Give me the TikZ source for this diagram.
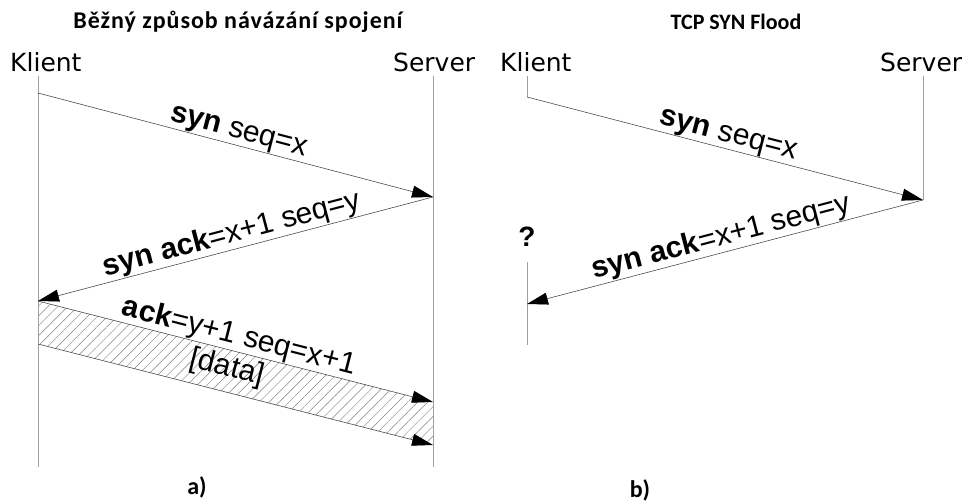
\documentclass[tikz,border=0pt]{standalone}
\usepackage{fontspec}
\setmainfont{Liberation Sans}
\newfontfamily\partyfont{DejaVu Sans}
\newfontfamily\titlefont{Carlito}
\newfontfamily\widetitlefont[LetterSpace=4]{Carlito}
\usetikzlibrary{arrows.meta,patterns.meta}

\begin{document}
\begin{tikzpicture}[x=1pt,y=-1pt]

	\tikzstyle lifeline=[gray!75, line width=0.8pt];
	\tikzstyle message=[draw=black!70, line width=0.6pt, -{Triangle[length=21pt,width=12pt,color=black]}];
	\tikzstyle party=[font=\partyfont\fontsize{25}{28}\selectfont, inner sep=0pt, anchor=west];
	\tikzstyle msglabel=[font=\fontsize{30}{32}\selectfont, sloped, above, inner sep=0.5pt];
	\tikzstyle heading=[font=\titlefont\bfseries\fontsize{22}{24}\selectfont];
	\tikzstyle datablock=[pattern={Lines[angle=45,distance=7pt,line width=0.45pt]}, pattern color=gray];

	\useasboundingbox (0,0) rectangle (969,503);

	% a) bezny prubeh
	\node[heading,font=\widetitlefont\bfseries\fontsize{24}{26}\selectfont] (titleA) at (238,22) {Běžný způsob návázání spojení};
	\node[party] (klientA) at (10,62) {Klient};
	\node[party] (serverA) at (393,62) {Server};

	\coordinate (kA0) at (38,76);
	\coordinate (kA1) at (38,93);
	\coordinate (kA2) at (38,301);
	\coordinate (kA3) at (38,344);
	\coordinate (kA4) at (38,467);
	\coordinate (sA0) at (433,76);
	\coordinate (sA1) at (433,197);
	\coordinate (sA2) at (433,402);
	\coordinate (sA3) at (433,445);
	\coordinate (sA4) at (433,467);

	\fill[datablock] (kA2) -- (sA2) -- (sA3) -- (kA3) -- cycle;
	\foreach \a/\b in {kA0/kA4,sA0/sA4}
		\draw[lifeline] (\a) -- (\b);

	\draw[message] (kA1) -- node[msglabel,pos=.5] {\textbf{syn} seq=x} (sA1);
	\draw[message] (sA1) -- node[msglabel,pos=.5] {\textbf{syn ack}=x+1 seq=y} (kA2);
	\draw[message] (kA2) -- node[msglabel,pos=.5] {\textbf{ack}=y+1 seq=x+1}
		node[msglabel,below,pos=.49,inner sep=4pt] {[data]} (sA2);
	\draw[message] (kA3) -- (sA3);

	\node[heading,font=\titlefont\bfseries\fontsize{24}{26}\selectfont] (labelA) at (197,487) {a)};

	% b) SYN flood
	\node[heading] (titleB) at (736,22) {TCP SYN Flood};
	\node[party] (klientB) at (500,62) {Klient};
	\node[party] (serverB) at (880,62) {Server};

	\coordinate (kB0) at (527,76);
	\coordinate (kB1) at (527,97);
	\coordinate (kB2) at (527,262);
	\coordinate (kB3) at (527,304);
	\coordinate (kB4) at (527,345);
	\coordinate (sB0) at (923,76);
	\coordinate (sB1) at (923,200);

	\foreach \a/\b in {kB0/kB1,kB2/kB4,sB0/sB1}
		\draw[lifeline] (\a) -- (\b);

	\draw[message] (kB1) -- node[msglabel,pos=.5] {\textbf{syn} seq=x} (sB1);
	\draw[message] (sB1) -- node[msglabel,pos=.5] {\textbf{syn ack}=x+1 seq=y} (kB3);
	\node[font=\bfseries\fontsize{28}{30}\selectfont] (unknown) at (527,237) {?};

	\node[heading,font=\titlefont\bfseries\fontsize{24}{26}\selectfont] (labelB) at (640,490) {b)};

\end{tikzpicture}
\end{document}
